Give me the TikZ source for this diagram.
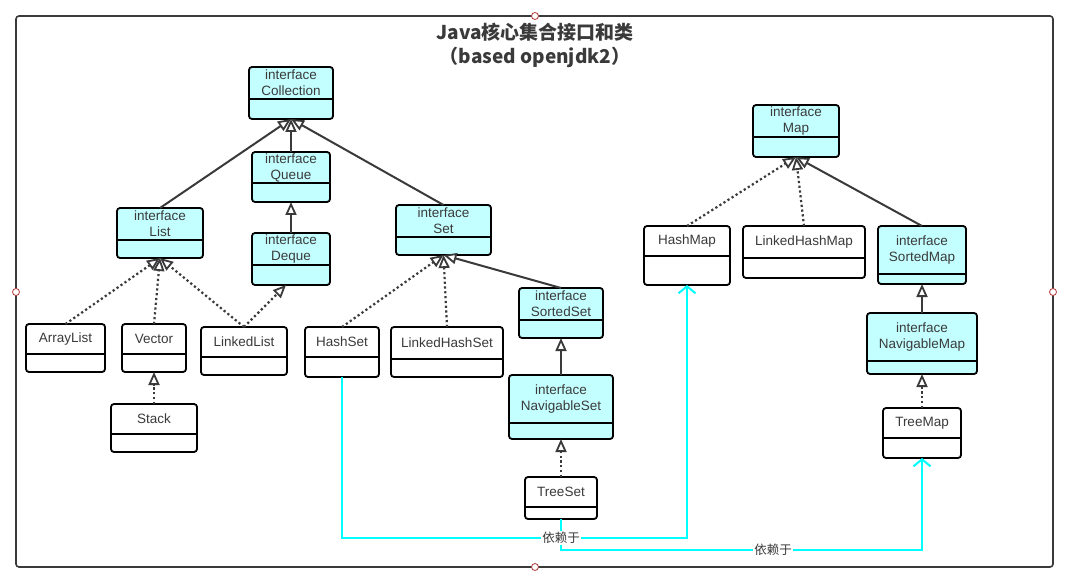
\documentclass[tikz,border=0pt]{standalone}
\usepackage{fontspec}
\setmainfont{Liberation Sans}
\newfontfamily\cjk{Noto Sans CJK SC}
\usetikzlibrary{arrows.meta,calc}
\definecolor{ifill}{HTML}{C4FFFF}
\definecolor{txt}{HTML}{3A3A3A}
\definecolor{conn}{HTML}{3A3A3A}
\definecolor{depc}{HTML}{00FFFF}
\definecolor{handlec}{HTML}{B23A3A}
\tikzset{
  iface/.style={draw=black, fill=ifill, line width=1.8pt, rounded corners=3pt},
  cls/.style={draw=black, fill=white, line width=1.8pt, rounded corners=3pt},
  divline/.style={draw=black, line width=1.8pt},
  boxtext/.style={text=txt, align=center, inner sep=0pt, font=\fontsize{13.5}{16}\selectfont},
  gentip/.style={-{Triangle[length=13pt,width=11pt,fill=white,line width=1.8pt]}},
  realline/.style={gentip, draw=conn, line width=2pt},
  implline/.style={gentip, draw=conn, line width=2.2pt, dash pattern=on 2.2pt off 2.6pt},
  depline/.style={draw=depc, line width=2.2pt, -{Straight Barb[length=7pt,width=17pt,line width=2pt]}},
  deplabel/.style={fill=white, text=txt, inner sep=1.5pt, font=\cjk\fontsize{12.5}{14}\selectfont},
  frameline/.style={draw=conn, line width=1.6pt, rounded corners=3pt},
  handle/.style={draw=handlec, fill=white, line width=0.8pt},
  titletext/.style={text=txt, font=\cjk\bfseries\fontsize{19}{22}\selectfont}
}
% name, x1, y1, x2, y2, divider y, text, style
\newcommand\ubox[8]{%
  \node[#8, minimum width={(#4-#2)*1pt}, minimum height={(#5-#3)*1pt}, anchor=north west, inner sep=0pt, outer sep=0pt] (#1) at (#2,#3) {};
  \draw[divline] (#2,#6) -- (#4,#6);
  \node[boxtext] (#1-t) at ({(#2+#4)/2},{(#3+#6)/2}) {#7};
}
\begin{document}
\begin{tikzpicture}[x=1pt,y=-1pt]
\useasboundingbox (0,0) rectangle (1065,580);
\fill[white] (0,0) rectangle (1065,580);

% frame
\draw[frameline] (16,16) rectangle (1053,567);

% title
\node[titletext] (title1) at (535,32) {Java核心集合接口和类};
\node[titletext] (title2) at (535,57) {（based openjdk2）};

% boxes
\ubox{coll}{249}{67}{333}{119}{99}{interface\\Collection}{iface}
\ubox{queue}{252}{152}{330}{202}{183}{interface\\Queue}{iface}
\ubox{deque}{252}{233}{330}{285}{265}{interface\\Deque}{iface}
\ubox{list}{117}{208}{203}{258}{240}{interface\\List}{iface}
\ubox{set}{396}{205}{491}{255}{237}{interface\\Set}{iface}
\ubox{arraylist}{26}{324}{105}{372}{354}{ArrayList}{cls}
\ubox{vector}{122}{324}{186}{372}{354}{Vector}{cls}
\ubox{linkedlist}{201}{327}{287}{375}{357}{LinkedList}{cls}
\ubox{hashset}{305}{327}{379}{377}{357}{HashSet}{cls}
\ubox{lhs}{391}{327}{503}{377}{359}{LinkedHashSet}{cls}
\ubox{stack}{111}{404}{197}{452}{434}{Stack}{cls}
\ubox{sortedset}{519}{288}{603}{338}{320}{interface\\SortedSet}{iface}
\ubox{navset}{509}{375}{613}{439}{423}{interface\\NavigableSet}{iface}
\ubox{treeset}{525}{477}{597}{519}{507}{TreeSet}{cls}
\ubox{map}{753}{105}{839}{157}{137}{interface\\Map}{iface}
\ubox{hashmap}{644}{226}{730}{285}{256}{HashMap}{cls}
\ubox{lhm}{743}{226}{865}{278}{258}{LinkedHashMap}{cls}
\ubox{sortedmap}{878}{226}{966}{284}{274}{interface\\SortedMap}{iface}
\ubox{navmap}{867}{313}{977}{374}{361}{interface\\NavigableMap}{iface}
\ubox{treemap}{883}{408}{961}{458}{438}{TreeMap}{cls}

% inheritance / implementation
\draw[realline] (list.north) -- (coll.south);
\draw[realline] (set.north) -- (coll.south);
\draw[realline] (queue.north) -- (coll.south);
\draw[realline] (deque.north) -- (queue.south);
\draw[implline] (arraylist.north) -- (list.south);
\draw[implline] (linkedlist.north) -- (list.south);
\draw[implline] (vector.north) -- (list.south);
\draw[implline] (linkedlist.north) -- ([xshift=-5pt]deque.south);
\draw[implline] (stack.north) -- (vector.south);
\draw[implline] (hashset.north) -- (set.south);
\draw[realline] (sortedset.north) -- (set.south);
\draw[implline] (lhs.north) -- (set.south);
\draw[realline] (navset.north) -- (sortedset.south);
\draw[implline] (treeset.north) -- (navset.south);
\draw[implline] (hashmap.north) -- (map.south);
\draw[realline] (sortedmap.north) -- (map.south);
\draw[implline] (lhm.north) -- (map.south);
\draw[realline] (navmap.north) -- (sortedmap.south);
\draw[implline] (treemap.north) -- (navmap.south);

% dependencies
\coordinate (d1) at (561,538);
\coordinate (d2) at (773,550);
\draw[depline] (hashset.south) |- (d1) -| (hashmap.south);
\draw[depline] (treeset.south) |- (d2) -| (treemap.south);
\node[deplabel] (l1) at (d1) {依赖于};
\node[deplabel] (l2) at (d2) {依赖于};

% selection handles
\draw[handle] (535,16) circle (3.5pt);
\draw[handle] (535,567) circle (3.5pt);
\draw[handle] (16,292) circle (3.5pt);
\draw[handle] (1053,292) circle (3.5pt);
\end{tikzpicture}
\end{document}
